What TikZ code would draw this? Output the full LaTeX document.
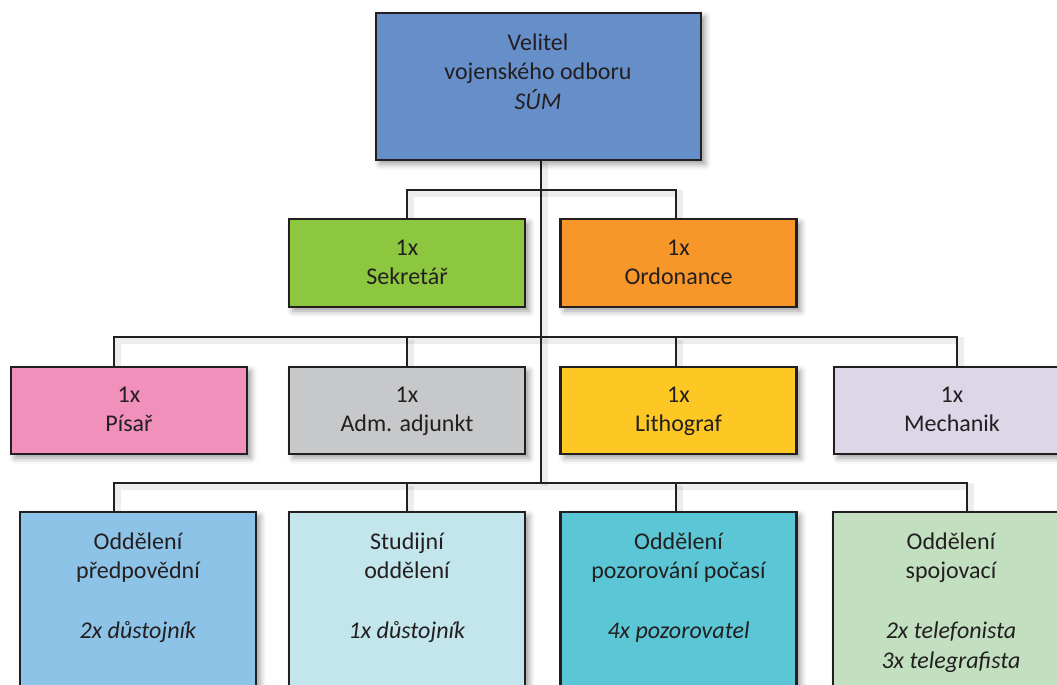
\documentclass[tikz,border=0pt]{standalone}
\usepackage{fontspec}
\setmainfont{Carlito}
\usetikzlibrary{shadows.blur,backgrounds}
\definecolor{ink}{RGB}{35,31,32}
\definecolor{cTop}{RGB}{102,142,201}
\definecolor{cSek}{RGB}{141,198,63}
\definecolor{cOrd}{RGB}{247,151,42}
\definecolor{cPis}{RGB}{241,144,187}
\definecolor{cAdm}{RGB}{199,200,202}
\definecolor{cLit}{RGB}{254,200,36}
\definecolor{cMec}{RGB}{220,214,231}
\definecolor{cPre}{RGB}{142,195,232}
\definecolor{cStu}{RGB}{195,229,236}
\definecolor{cPoz}{RGB}{91,199,214}
\definecolor{cSpo}{RGB}{194,224,192}
\newcommand{\fl}{\rule{0pt}{24pt}}
\tikzset{
  box/.style={draw=ink, line width=2.5pt, rectangle, inner sep=0pt,
    blur shadow={shadow xshift=4pt, shadow yshift=-4pt, shadow blur radius=6pt, shadow opacity=40}},
  box2/.style={box, minimum width=236pt, minimum height=88pt},
  box4/.style={box, minimum width=236pt, minimum height=200pt},
  txt/.style={align=center, anchor=north, inner sep=0pt, text=ink,
    font=\fontsize{24}{29.7}\selectfont},
  conn/.style={draw=ink, line width=2pt,
    preaction={draw=black, opacity=0.07, line width=7pt, transform canvas={shift={(3pt,-3pt)}}}}
}
\begin{document}
\begin{tikzpicture}[x=1pt,y=-1pt]
\useasboundingbox (0,0) rectangle (1057,685);
\clip (0,0) rectangle (1057,685);
% bus junction coordinates
\coordinate (tr) at (541,160);
\coordinate (b2l) at (407,190);
\coordinate (b2r) at (676,190);
\coordinate (b3l) at (114,337);
\coordinate (b3a) at (407,337);
\coordinate (b3b) at (676,337);
\coordinate (b3r) at (957,337);
\coordinate (b4l) at (114,483);
\coordinate (b4a) at (407,483);
\coordinate (b4b) at (676,483);
\coordinate (b4r) at (967,483);
\coordinate (b4m) at (541,483);
% boxes
\node[box, fill=cTop, minimum width=325pt, minimum height=147pt] (top) at (538.5,86.5) {};
\node[box2, fill=cSek] (sek) at (407,263) {};
\node[box2, fill=cOrd] (ord) at (678.5,263) {};
\node[box2, fill=cPis, minimum height=87pt] (pis) at (129,410.5) {};
\node[box2, fill=cAdm, minimum height=87pt] (adm) at (407,410.5) {};
\node[box2, fill=cLit, minimum height=87pt] (lit) at (678.5,410.5) {};
\node[box2, fill=cMec, minimum height=87pt] (mec) at (952,410.5) {};
\node[box4, fill=cPre] (pre) at (138,612) {};
\node[box4, fill=cStu] (stu) at (407,612) {};
\node[box4, fill=cPoz] (poz) at (678.5,612) {};
\node[box4, fill=cSpo] (spo) at (951,612) {};
% connectors
\begin{scope}[on background layer]
\draw[conn] (tr) -- (b4m);
\draw[conn] (b2l |- sek.north) -- (b2l) -- (b2r) -- (b2r |- ord.north);
\draw[conn] (b3l |- pis.north) -- (b3l) -- (b3r) -- (b3r |- mec.north);
\draw[conn] (b3a) -- (b3a |- adm.north);
\draw[conn] (b3b) -- (b3b |- lit.north);
\draw[conn] (b4l |- pre.north) -- (b4l) -- (b4r) -- (b4r |- spo.north);
\draw[conn] (b4a) -- (b4a |- stu.north);
\draw[conn] (b4b) -- (b4b |- poz.north);
\end{scope}
% texts
\node[txt] (tTop) at (538,26) {\fl Velitel\\vojenského odboru\\\textit{SÚM}};
\node[txt] (tSek) at (407,231) {\fl 1x\\Sekretář};
\node[txt] (tOrd) at (678.5,231) {\fl 1x\\Ordonance};
\node[txt] (tPis) at (129,378) {\fl 1x\\Písař};
\node[txt] (tAdm) at (407,378) {\fl 1x\\Adm. adjunkt};
\node[txt] (tLit) at (678.5,378) {\fl 1x\\Lithograf};
\node[txt] (tMec) at (952,378) {\fl 1x\\Mechanik};
\node[txt] (tPre) at (138,525) {\fl Oddělení\\předpovědní\\[29.7pt]\textit{2x důstojník}};
\node[txt] (tStu) at (407,525) {\fl Studijní\\oddělení\\[29.7pt]\textit{1x důstojník}};
\node[txt] (tPoz) at (678.5,525) {\fl Oddělení\\pozorování počasí\\[29.7pt]\textit{4x pozorovatel}};
\node[txt] (tSpo) at (951,525) {\fl Oddělení\\spojovací\\[29.7pt]\textit{2x telefonista}\\\textit{3x telegrafista}};
\end{tikzpicture}
\end{document}
